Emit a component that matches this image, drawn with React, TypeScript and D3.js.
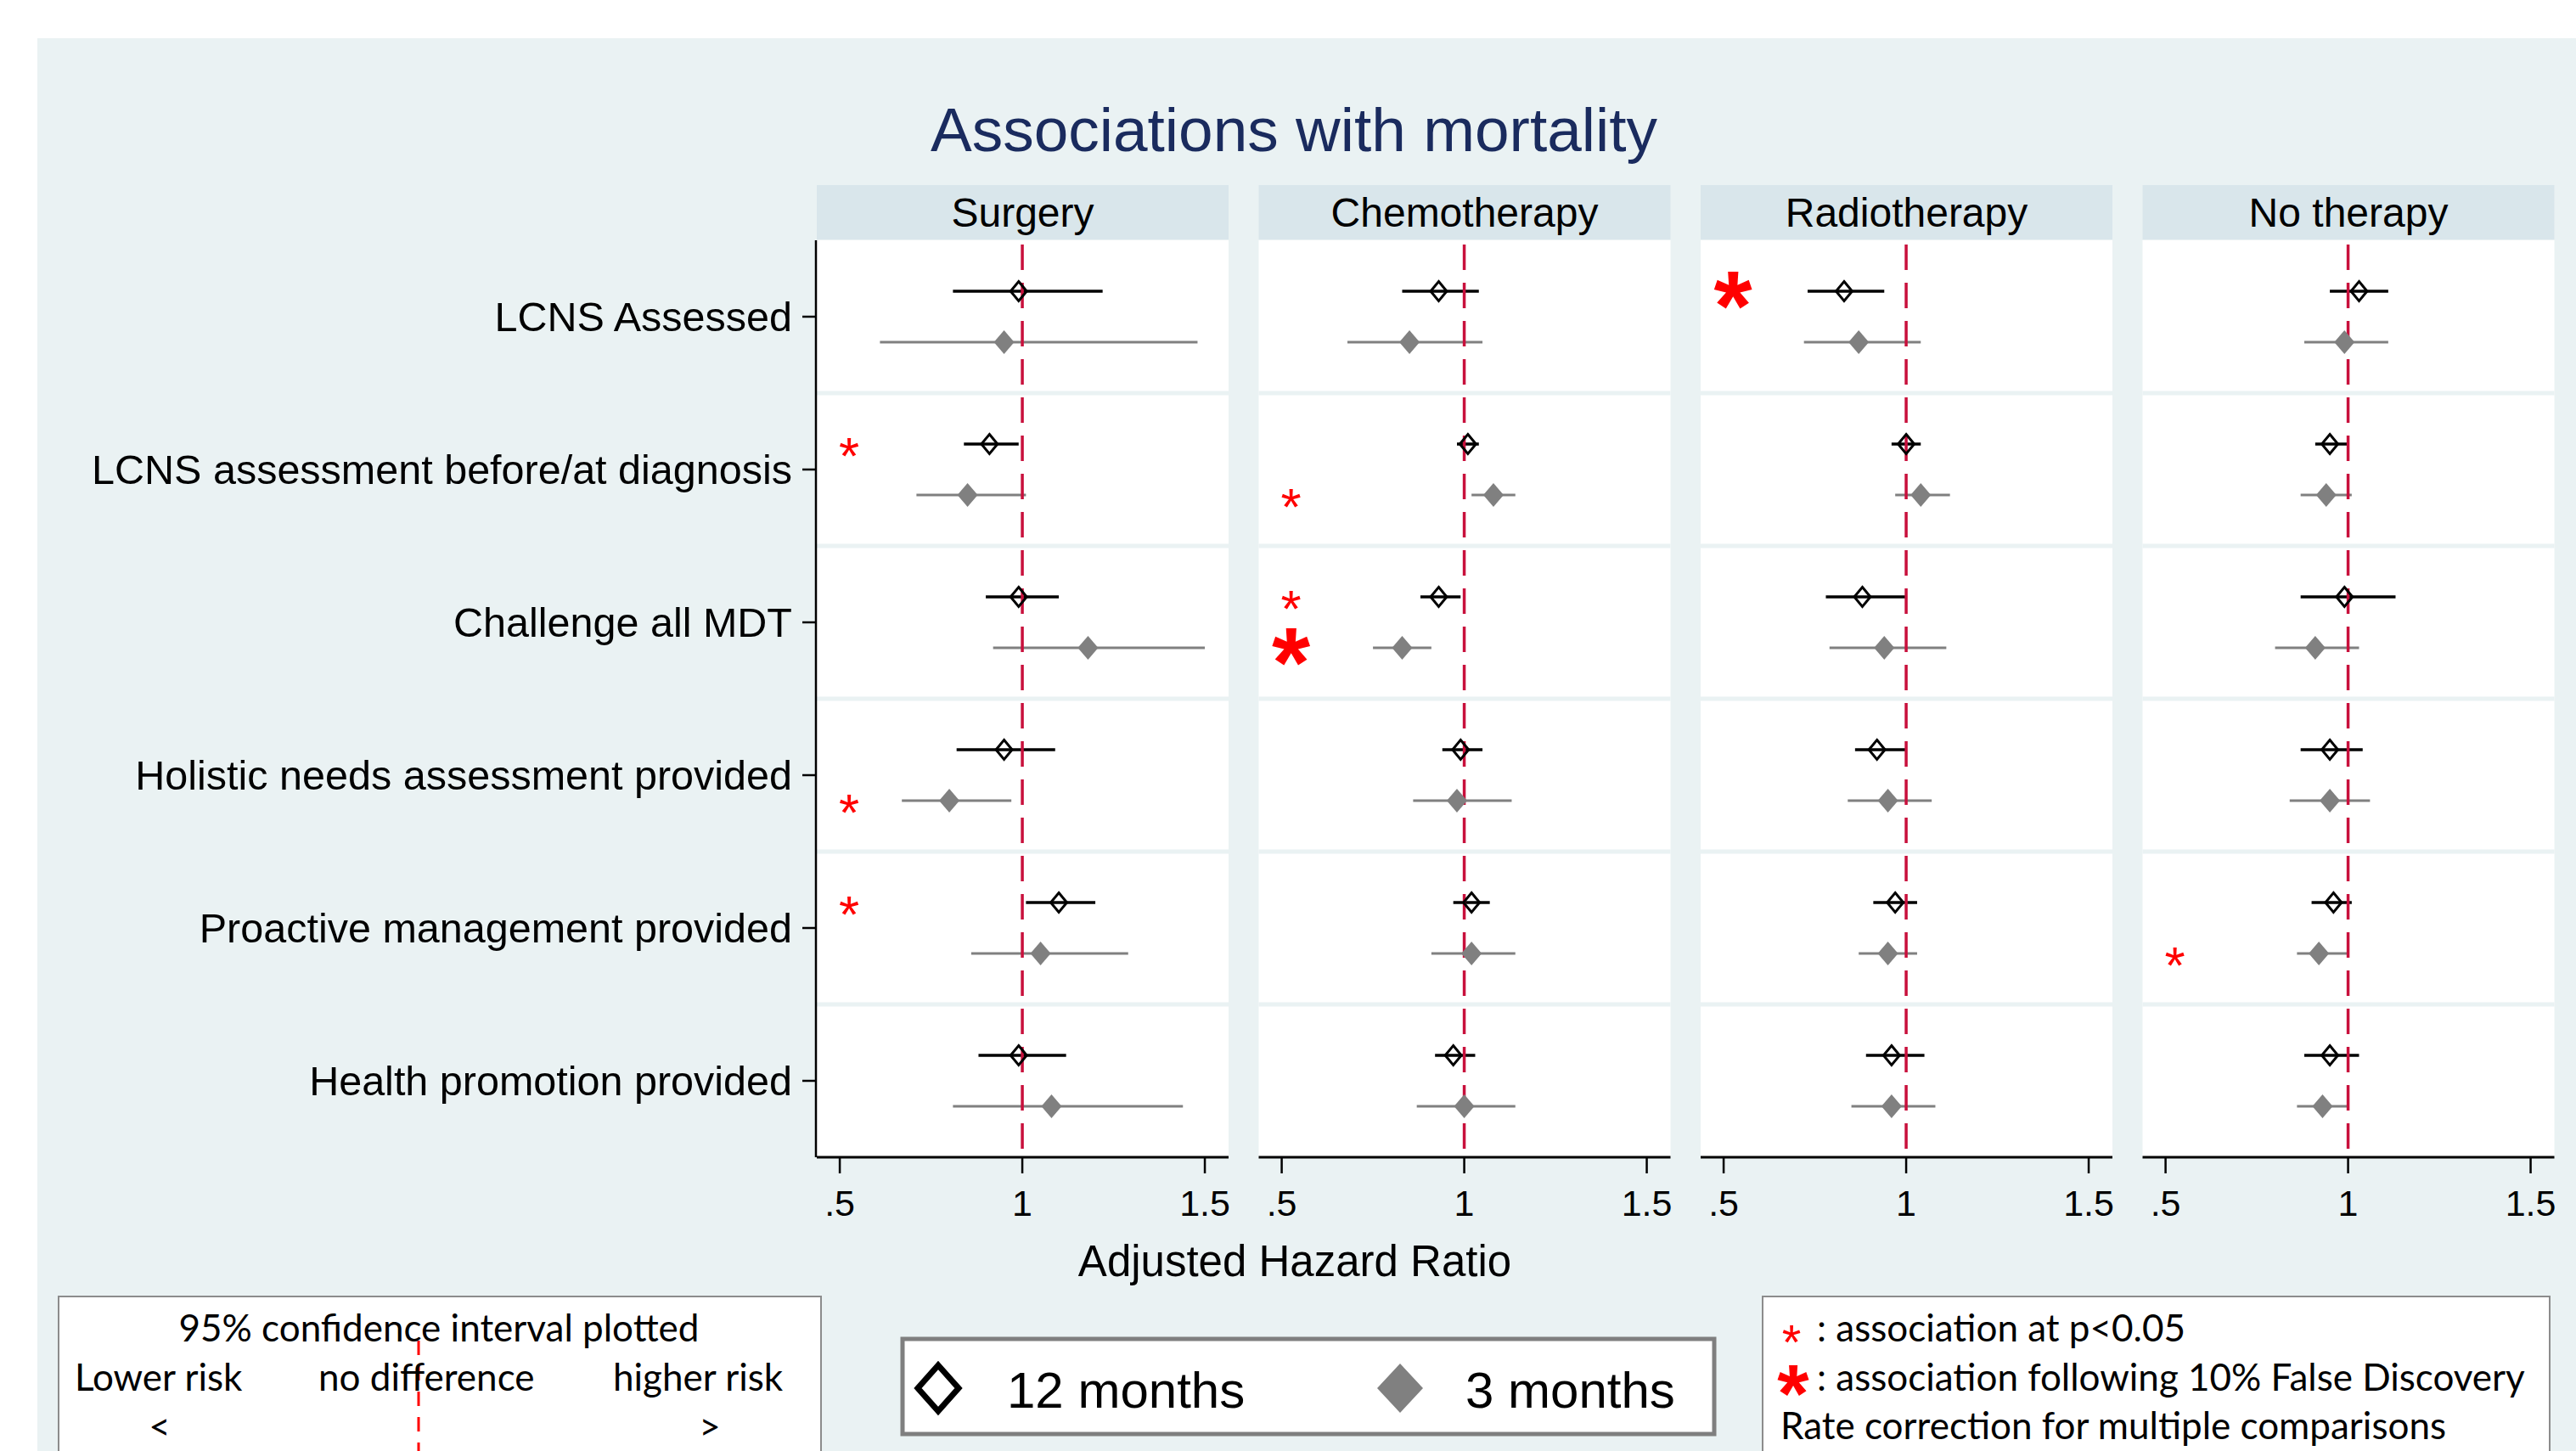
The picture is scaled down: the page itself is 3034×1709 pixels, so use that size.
import React from "react";
import * as d3 from "d3";

const THERAPIES = ["Surgery", "Chemotherapy", "Radiotherapy", "No therapy"];
const MEASURES = [
  "LCNS Assessed",
  "LCNS assessment before/at diagnosis",
  "Challenge all MDT",
  "Holistic needs assessment provided",
  "Proactive management provided",
  "Health promotion provided",
];
const SERIES = ["12 months", "3 months"];
const X_TICKS = [0.5, 1, 1.5];
const X_TICK_LABELS = [".5", "1", "1.5"];

// [hazard ratio, lower 95% CI, upper 95% CI], one row per measure
const SURGERY_12M = [[0.99, 0.81, 1.22], [0.91, 0.84, 0.99], [0.99, 0.9, 1.1], [0.95, 0.82, 1.09], [1.1, 1.01, 1.2], [0.99, 0.88, 1.12]];
const SURGERY_3M = [[0.95, 0.61, 1.48], [0.85, 0.71, 1.01], [1.18, 0.92, 1.5], [0.8, 0.67, 0.97], [1.05, 0.86, 1.29], [1.08, 0.81, 1.44]];
const CHEMO_12M = [[0.93, 0.83, 1.04], [1.01, 0.98, 1.04], [0.93, 0.88, 0.99], [0.99, 0.94, 1.05], [1.02, 0.97, 1.07], [0.97, 0.92, 1.03]];
const CHEMO_3M = [[0.85, 0.68, 1.05], [1.08, 1.02, 1.14], [0.83, 0.75, 0.91], [0.98, 0.86, 1.13], [1.02, 0.91, 1.14], [1.0, 0.87, 1.14]];
const RADIO_12M = [[0.83, 0.73, 0.94], [1.0, 0.96, 1.04], [0.88, 0.78, 1.0], [0.92, 0.86, 1.0], [0.97, 0.91, 1.03], [0.96, 0.89, 1.05]];
const RADIO_3M = [[0.87, 0.72, 1.04], [1.04, 0.97, 1.12], [0.94, 0.79, 1.11], [0.95, 0.84, 1.07], [0.95, 0.87, 1.03], [0.96, 0.85, 1.08]];
const NONE_12M = [[1.03, 0.95, 1.11], [0.95, 0.91, 1.0], [0.99, 0.87, 1.13], [0.95, 0.87, 1.04], [0.96, 0.9, 1.01], [0.95, 0.88, 1.03]];
const NONE_3M = [[0.99, 0.88, 1.11], [0.94, 0.87, 1.01], [0.91, 0.8, 1.03], [0.95, 0.84, 1.06], [0.92, 0.86, 1.0], [0.93, 0.86, 1.0]];

const HR_BY_SERIES = {
  "12 months": [SURGERY_12M, CHEMO_12M, RADIO_12M, NONE_12M],
  "3 months": [SURGERY_3M, CHEMO_3M, RADIO_3M, NONE_3M],
};

// "p" = association at p<0.05, "fdr" = after 10% false discovery rate correction
const STARS = [
  { therapy: "Surgery", measure: 1, series: "12 months", level: "p" },
  { therapy: "Surgery", measure: 3, series: "3 months", level: "p" },
  { therapy: "Surgery", measure: 4, series: "12 months", level: "p" },
  { therapy: "Chemotherapy", measure: 1, series: "3 months", level: "p" },
  { therapy: "Chemotherapy", measure: 2, series: "12 months", level: "p" },
  { therapy: "Chemotherapy", measure: 2, series: "3 months", level: "fdr" },
  { therapy: "Radiotherapy", measure: 0, series: "12 months", level: "fdr" },
  { therapy: "No therapy", measure: 4, series: "3 months", level: "p" },
];

const W = 3034;
const H = 1709;
const FONT = "'Liberation Sans', Arial, sans-serif";
const NOTE_FONT = "Lato, 'Open Sans', sans-serif";
const BG = "#eaf2f3";
const HEAD_BG = "#d9e6eb";
const GRAY = "#808080";
const XLINE = "#c8103c";

const PANEL_LEFT = 962;
const PANEL_W = 485;
const PANEL_STEP = 520.5;
const HEAD_TOP = 218;
const PLOT_TOP = 283;
const PLOT_BOTTOM = 1363;
const X_DOMAIN = [0.437, 1.565];

function diamond(cx, cy, hw, hh) {
  const p = d3.path();
  p.moveTo(cx, cy - hh);
  p.lineTo(cx + hw, cy);
  p.lineTo(cx, cy + hh);
  p.lineTo(cx - hw, cy);
  p.closePath();
  return p.toString();
}

function Star({ cx, cy, big, size }) {
  const fs = size || (big ? 116 : 62);
  const k = big ? 0.5 : 0.57;
  return (
    <text x={cx} y={cy + fs * k} fontSize={fs} fontWeight={big ? "bold" : "normal"}
      textAnchor="middle" fill="#ff0000" fontFamily={FONT}>*</text>
  );
}

export default function App() {
  const y = d3.scaleBand().domain(MEASURES).range([PLOT_TOP, PLOT_BOTTOM]);
  const rowOffset = { "12 months": -30, "3 months": 30 };
  const rowY = (m, s) => y(MEASURES[m]) + y.bandwidth() / 2 + rowOffset[s];

  const panels = THERAPIES.map((t, i) => {
    const left = PANEL_LEFT + i * PANEL_STEP;
    const x = d3.scaleLinear().domain(X_DOMAIN).range([left, left + PANEL_W]);
    return { t, i, left, x };
  });

  return (
    <div style={{ position: "absolute", left: 0, top: 0 }}>
      <svg width={W} height={H} style={{ display: "block" }}>
        <rect x={0} y={0} width={W} height={H} fill="#ffffff" />
        <rect x={44} y={45} width={W - 44} height={H - 45} fill={BG} />

        <text x={1524} y={178} fontSize={73} fill="#1a2b5e" textAnchor="middle" fontFamily={FONT}>
          Associations with mortality
        </text>

        {panels.map(({ t, i, left, x }) => (
          <g key={t}>
            <rect x={left} y={HEAD_TOP} width={PANEL_W} height={PLOT_TOP - HEAD_TOP - 1} fill={HEAD_BG} />
            <text x={left + PANEL_W / 2} y={267} fontSize={48} textAnchor="middle" fontFamily={FONT}>{t}</text>
            <rect x={left} y={PLOT_TOP} width={PANEL_W} height={PLOT_BOTTOM - PLOT_TOP} fill="#ffffff" />
            {MEASURES.slice(1).map((m) => (
              <line key={m} x1={left} x2={left + PANEL_W} y1={y(m)} y2={y(m)} stroke={BG} strokeWidth={5} />
            ))}

            {SERIES.map((s) =>
              HR_BY_SERIES[s][i].map((d, m) => (
                <line key={s + m} x1={x(d[1])} x2={x(d[2])} y1={rowY(m, s)} y2={rowY(m, s)}
                  stroke={s === "12 months" ? "#000000" : GRAY} strokeWidth={s === "12 months" ? 3.6 : 3.2} />
              ))
            )}

            <line x1={x(1)} x2={x(1)} y1={PLOT_TOP + 5} y2={PLOT_BOTTOM} stroke={XLINE}
              strokeWidth={3.5} strokeDasharray="30,15" />

            {HR_BY_SERIES["3 months"][i].map((d, m) => (
              <path key={"f" + m} d={diamond(x(d[0]), rowY(m, "3 months"), 12, 14)} fill={GRAY} />
            ))}
            {HR_BY_SERIES["12 months"][i].map((d, m) => (
              <path key={"h" + m} d={diamond(x(d[0]), rowY(m, "12 months"), 9.5, 11.5)} fill="none"
                stroke="#000000" strokeWidth={3} strokeLinejoin="miter" />
            ))}

            {STARS.filter((s) => s.therapy === t).map((s, k) => (
              <Star key={k} cx={left + 38} cy={rowY(s.measure, s.series)} big={s.level === "fdr"} />
            ))}

            <line x1={left} x2={left + PANEL_W} y1={PLOT_BOTTOM} y2={PLOT_BOTTOM} stroke="#000000" strokeWidth={3} />
            {X_TICKS.map((v, k) => (
              <g key={v}>
                <line x1={x(v)} x2={x(v)} y1={PLOT_BOTTOM} y2={PLOT_BOTTOM + 19} stroke="#000000" strokeWidth={2.5} />
                <text x={x(v)} y={1432} fontSize={43} textAnchor="middle" fontFamily={FONT}>{X_TICK_LABELS[k]}</text>
              </g>
            ))}
          </g>
        ))}

        {/* y axis on the first panel */}
        <line x1={PANEL_LEFT - 1} x2={PANEL_LEFT - 1} y1={PLOT_TOP} y2={PLOT_BOTTOM} stroke="#000000" strokeWidth={2.5} />
        {MEASURES.map((m) => {
          const cy = y(m) + y.bandwidth() / 2;
          return (
            <g key={m}>
              <line x1={945} x2={PANEL_LEFT - 1} y1={cy} y2={cy} stroke="#000000" strokeWidth={2.5} />
              <text x={933} y={cy + 17} fontSize={48.5} textAnchor="end" fontFamily={FONT}>{m}</text>
            </g>
          );
        })}

        <text x={1525} y={1503} fontSize={51} textAnchor="middle" fontFamily={FONT}>Adjusted Hazard Ratio</text>

        {/* note: reading the interval */}
        <rect x={69} y={1527} width={898} height={250} fill="#ffffff" stroke="#8c8c8c" strokeWidth={2} />
        <line x1={493} x2={493} y1={1579} y2={H} stroke="#ff0000" strokeWidth={3} strokeDasharray="17,13" />
        <g fontFamily={NOTE_FONT} fontSize={44} fill="#000000">
          <text x={517} y={1580} textAnchor="middle">95% confidence interval plotted</text>
          <text x={88} y={1638}>Lower risk</text>
          <text x={375} y={1638}>no difference</text>
          <text x={722} y={1638}>higher risk</text>
          <text x={188} y={1696} textAnchor="middle">&lt;</text>
          <text x={836} y={1696} textAnchor="middle">&gt;</text>
        </g>

        {/* series legend */}
        <rect x={1063} y={1577} width={956} height={112} fill="#ffffff" stroke="#7f7f7f" strokeWidth={5} />
        <path d={diamond(1105, 1635, 24, 27)} fill="none" stroke="#000000" strokeWidth={7} />
        <text x={1186} y={1658} fontSize={60} fontFamily={FONT}>{SERIES[0]}</text>
        <path d={diamond(1649, 1635, 27, 29)} fill={GRAY} />
        <text x={1726} y={1658} fontSize={60} fontFamily={FONT}>{SERIES[1]}</text>

        {/* significance legend */}
        <rect x={2076} y={1527} width={927} height={250} fill="#ffffff" stroke="#8c8c8c" strokeWidth={2} />
        <Star cx={2110} cy={1568} big={false} size={58} />
        <Star cx={2112} cy={1626} big={true} size={96} />
        <g fontFamily={NOTE_FONT} fontSize={44} fill="#000000">
          <text x={2140} y={1580}>: association at p&lt;0.05</text>
          <text x={2140} y={1638}>: association following 10% False Discovery</text>
          <text x={2097} y={1695}>Rate correction for multiple comparisons</text>
        </g>
      </svg>
    </div>
  );
}
